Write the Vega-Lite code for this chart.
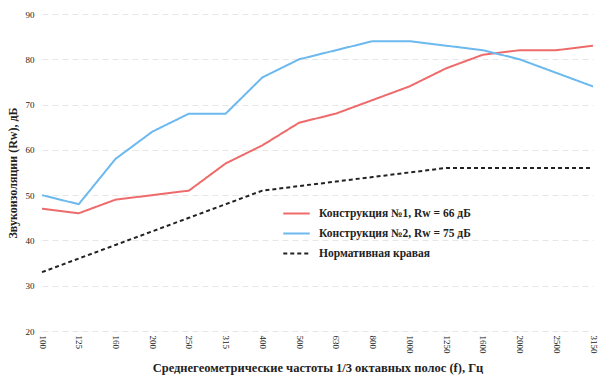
{
  "$schema": "https://vega.github.io/schema/vega-lite/v6.json",
  "width": 551,
  "height": 317,
  "autosize": "none",
  "padding": {"left": 42, "top": 14, "right": 6, "bottom": 47},
  "background": "white",
  "config": {"view": {"stroke": null}, "font": "Liberation Serif"},
  "data": {"values": [
    {"f": "100", "s": "Конструкция №1, Rw = 66 дБ", "v": 47},
    {"f": "125", "s": "Конструкция №1, Rw = 66 дБ", "v": 46},
    {"f": "160", "s": "Конструкция №1, Rw = 66 дБ", "v": 49},
    {"f": "200", "s": "Конструкция №1, Rw = 66 дБ", "v": 50},
    {"f": "250", "s": "Конструкция №1, Rw = 66 дБ", "v": 51},
    {"f": "315", "s": "Конструкция №1, Rw = 66 дБ", "v": 57},
    {"f": "400", "s": "Конструкция №1, Rw = 66 дБ", "v": 61},
    {"f": "500", "s": "Конструкция №1, Rw = 66 дБ", "v": 66},
    {"f": "630", "s": "Конструкция №1, Rw = 66 дБ", "v": 68},
    {"f": "800", "s": "Конструкция №1, Rw = 66 дБ", "v": 71},
    {"f": "1000", "s": "Конструкция №1, Rw = 66 дБ", "v": 74},
    {"f": "1250", "s": "Конструкция №1, Rw = 66 дБ", "v": 78},
    {"f": "1600", "s": "Конструкция №1, Rw = 66 дБ", "v": 81},
    {"f": "2000", "s": "Конструкция №1, Rw = 66 дБ", "v": 82},
    {"f": "2500", "s": "Конструкция №1, Rw = 66 дБ", "v": 82},
    {"f": "3150", "s": "Конструкция №1, Rw = 66 дБ", "v": 83},
    {"f": "100", "s": "Конструкция №2, Rw = 75 дБ", "v": 50},
    {"f": "125", "s": "Конструкция №2, Rw = 75 дБ", "v": 48},
    {"f": "160", "s": "Конструкция №2, Rw = 75 дБ", "v": 58},
    {"f": "200", "s": "Конструкция №2, Rw = 75 дБ", "v": 64},
    {"f": "250", "s": "Конструкция №2, Rw = 75 дБ", "v": 68},
    {"f": "315", "s": "Конструкция №2, Rw = 75 дБ", "v": 68},
    {"f": "400", "s": "Конструкция №2, Rw = 75 дБ", "v": 76},
    {"f": "500", "s": "Конструкция №2, Rw = 75 дБ", "v": 80},
    {"f": "630", "s": "Конструкция №2, Rw = 75 дБ", "v": 82},
    {"f": "800", "s": "Конструкция №2, Rw = 75 дБ", "v": 84},
    {"f": "1000", "s": "Конструкция №2, Rw = 75 дБ", "v": 84},
    {"f": "1250", "s": "Конструкция №2, Rw = 75 дБ", "v": 83},
    {"f": "1600", "s": "Конструкция №2, Rw = 75 дБ", "v": 82},
    {"f": "2000", "s": "Конструкция №2, Rw = 75 дБ", "v": 80},
    {"f": "2500", "s": "Конструкция №2, Rw = 75 дБ", "v": 77},
    {"f": "3150", "s": "Конструкция №2, Rw = 75 дБ", "v": 74},
    {"f": "100", "s": "Нормативная кравая", "v": 33},
    {"f": "125", "s": "Нормативная кравая", "v": 36},
    {"f": "160", "s": "Нормативная кравая", "v": 39},
    {"f": "200", "s": "Нормативная кравая", "v": 42},
    {"f": "250", "s": "Нормативная кравая", "v": 45},
    {"f": "315", "s": "Нормативная кравая", "v": 48},
    {"f": "400", "s": "Нормативная кравая", "v": 51},
    {"f": "500", "s": "Нормативная кравая", "v": 52},
    {"f": "630", "s": "Нормативная кравая", "v": 53},
    {"f": "800", "s": "Нормативная кравая", "v": 54},
    {"f": "1000", "s": "Нормативная кравая", "v": 55},
    {"f": "1250", "s": "Нормативная кравая", "v": 56},
    {"f": "1600", "s": "Нормативная кравая", "v": 56},
    {"f": "2000", "s": "Нормативная кравая", "v": 56},
    {"f": "2500", "s": "Нормативная кравая", "v": 56},
    {"f": "3150", "s": "Нормативная кравая", "v": 56}
  ]},
  "mark": {"type": "line", "strokeWidth": 2},
  "encoding": {
    "x": {
      "field": "f", "type": "ordinal", "sort": null,
      "scale": {"type": "point", "padding": 0},
      "title": "Среднегеометрические частоты 1/3 октавных полос (f), Гц",
      "axis": {
        "labelAngle": 90, "labelFontSize": 9, "labelColor": "#222", "labelPadding": 4,
        "ticks": false, "domain": false, "grid": false,
        "titleFontSize": 12.5, "titleFontWeight": "bold", "titleColor": "#222", "titlePadding": 8
      }
    },
    "y": {
      "field": "v", "type": "quantitative",
      "scale": {"domain": [20, 90]},
      "title": "Звукоизоляции (Rw), дБ",
      "axis": {
        "values": [20, 30, 40, 50, 60, 70, 80, 90],
        "labelFontSize": 9, "labelColor": "#222", "labelPadding": 8,
        "ticks": false, "domain": false,
        "gridColor": "#e6e6e6", "gridDash": [6, 4], "gridWidth": 1,
        "titleFontSize": 12, "titleFontWeight": "bold", "titleColor": "#222", "titlePadding": 6
      }
    },
    "color": {
      "field": "s", "type": "nominal",
      "scale": {"domain": ["Конструкция №1, Rw = 66 дБ", "Конструкция №2, Rw = 75 дБ", "Нормативная кравая"], "range": ["#ee6b6b", "#6bb9ee", "#222222"]},
      "legend": {
        "title": null, "orient": "none", "legendX": 240, "legendY": 185,
        "symbolType": "stroke", "symbolSize": 700, "symbolStrokeWidth": 2,
        "labelFontSize": 11.5, "labelFontWeight": "bold", "labelColor": "#222", "rowPadding": -8, "labelOffset": 8
      }
    },
    "strokeDash": {
      "field": "s", "type": "nominal",
      "scale": {"domain": ["Конструкция №1, Rw = 66 дБ", "Конструкция №2, Rw = 75 дБ", "Нормативная кравая"], "range": [[1, 0], [1, 0], [4, 3]]},
      "legend": null
    },
    "strokeWidth": {
      "field": "s", "type": "nominal",
      "scale": {"domain": ["Конструкция №1, Rw = 66 дБ", "Конструкция №2, Rw = 75 дБ", "Нормативная кравая"], "range": [2, 2, 1.2]},
      "legend": null
    }
  }
}
